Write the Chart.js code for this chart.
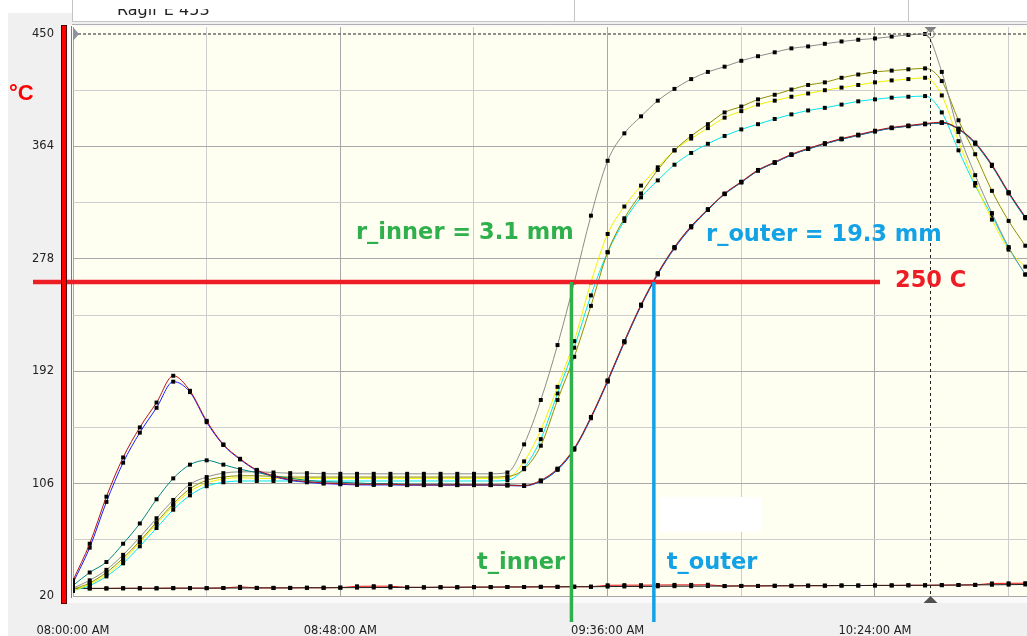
<!DOCTYPE html>
<html>
<head>
<meta charset="utf-8">
<script src="https://cdn.jsdelivr.net/npm/chart.js@4.4.0/dist/chart.umd.min.js"></script>
<style>
  html, body { margin: 0; padding: 0; background: #fff; overflow: hidden; }
  canvas { display: block; }
</style>
</head>
<body>
<canvas id="chart" width="1027" height="636"></canvas>
<script>
// time axis: minutes after 08:00:00 AM
const startHour = 8;
const minutes = [0, 3, 6, 9, 12, 15, 18, 21, 24, 27,
  30, 33, 36, 39, 42, 45, 48, 51, 54, 57,
  60, 63, 66, 69, 72, 75, 78, 81, 84, 87,
  90, 93, 96, 99, 102, 105, 108, 111, 114, 117,
  120, 123, 126, 129, 132, 135, 138, 141, 144, 147,
  150, 153, 156, 159, 162, 165, 168, 171];

// temperatures, °C
const redOuter = [32, 60, 96, 126, 149, 168, 188.5, 177, 154, 136,
  125, 116.5, 112, 109, 107.5, 106.5, 106, 105.5, 105.5, 105.5,
  105, 105, 105, 105, 105, 105, 104.8, 104.5, 108.5, 117.5,
  133, 157, 185, 215, 243, 267, 287, 303, 316, 328,
  337, 346, 352, 358, 362.5, 366.5, 370, 373, 376, 378.5,
  380, 381.5, 382.5, 377.5, 367, 350, 329, 310];
const blueOuter = [30, 57, 92, 122, 145, 164, 184, 176, 153, 135.5,
  124.5, 116, 111.5, 108.5, 107, 106, 105.5, 105, 105, 105,
  104.8, 104.8, 104.8, 104.8, 104.8, 104.8, 104.5, 104.2, 107.8, 116.5,
  132, 156, 184, 214, 242, 266, 286, 302, 315.5, 327.5,
  336.5, 345.5, 351.5, 357.5, 362, 366, 369.5, 372.5, 375.5, 378,
  379.5, 381, 382, 377.5, 366.5, 349.5, 328.5, 309.5];
const tealOuter = [28, 38, 46, 60, 75.5, 94, 110, 120.5, 123.8, 120.5,
  117, 114.5, 112, 110, 108.5, 107.5, 107, 106.5, 106, 106,
  105.5, 105.5, 105.5, 105.3, 105.2, 105, 105, 104.5, 108, 117,
  132.5, 156.5, 184.5, 214.5, 242.5, 266.5, 286.5, 302.5, 315.5, 327.5,
  336.5, 345.5, 351.5, 357.5, 362, 366, 369.5, 372.5, 375.5, 378,
  379.5, 381, 382, 377, 366, 349, 328, 309];
const grayInner = [26, 32, 40, 51.5, 65, 79.5, 93.5, 105.5, 111, 114,
  115, 115, 114.5, 114, 114, 113.5, 113.5, 113.5, 113.5, 113.5,
  113.5, 113.5, 113.5, 113.5, 113.5, 113.5, 114.5, 136, 170, 212,
  260, 311, 353, 374, 387, 399, 408, 415.5, 421, 425,
  429.5, 433, 436, 439, 440.5, 442.5, 444.3, 445.6, 446.6, 448,
  449.3, 450, 421, 375, 342, 313, 287, 266];
const oliveInner = [25, 30, 38, 49, 62, 76.5, 90.5, 102, 108.5, 111,
  112, 112, 111.5, 111, 111, 111, 111, 111, 111, 111,
  111, 111, 111, 111, 111, 111, 111.5, 117, 135, 170,
  203, 242, 283, 309, 328, 346, 361, 372, 381, 390,
  394.5, 400, 403.5, 407.5, 411, 413, 416.5, 419, 421, 422,
  423, 423.7, 414, 384, 358, 330, 307, 288];
const yellowInner = [24, 29, 36.5, 47, 61, 75, 89, 100, 106.5, 109.5,
  110.5, 110, 110, 110, 110, 110, 110, 110, 110, 110,
  110, 110, 110, 110, 110, 110, 110.5, 123, 147, 180,
  215, 260, 297, 318, 334, 348, 361, 370, 378, 386,
  391, 396, 399, 402, 404.5, 407, 409, 411, 413, 414.5,
  415.5, 416.5, 403, 368, 336, 308, 285, 272];
const cyanInner = [24, 28, 35, 45, 58, 72, 86, 97, 104, 107,
  108, 108, 108, 108, 108, 108, 108, 108, 108, 108,
  108, 108, 108, 108, 108, 108, 108.5, 118, 140, 175,
  210, 250, 283, 307, 325, 338, 350, 359, 366, 372,
  377, 381, 385, 388.5, 391.5, 393.5, 396, 398.5, 400, 401.3,
  402, 402.5, 390, 361, 334, 311, 286, 266];
const ambientBlack = [25.8, 25.8, 25.8, 25.9, 25.9, 25.9, 26, 26, 26, 26.1,
  26.1, 26.2, 26.2, 26.2, 26.3, 26.3, 26.4, 26.4, 26.5, 26.5,
  26.6, 26.6, 26.7, 26.7, 26.8, 26.8, 26.9, 26.9, 27, 27,
  27.1, 27.1, 27.2, 27.3, 27.3, 27.4, 27.5, 27.5, 27.6, 27.6,
  27.7, 27.7, 27.8, 27.8, 27.9, 27.9, 28, 28, 28.1, 28.1,
  28.2, 28.2, 28.3, 28.4, 28.5, 28.6, 28.7, 28.8];
const ambientRed = [25.8, 25.8, 25.8, 25.9, 25.9, 25.9, 26, 26, 26, 26.1,
  27, 26.2, 26.2, 26.2, 26.3, 26.3, 26.4, 27.4, 27.5, 27.5,
  26.6, 26.6, 26.7, 26.7, 26.8, 26.8, 26.9, 26.9, 27, 27,
  27.1, 27.1, 28.2, 28.3, 28.3, 28.4, 28.5, 28.5, 28.6, 27.6,
  27.7, 27.7, 27.8, 27.8, 27.9, 27.9, 28, 28, 28.1, 28.1,
  28.2, 28.2, 28.3, 28.4, 28.5, 29.6, 29.7, 29.8];

// axis ticks
const yGridValues = [20, 63, 106, 149, 192, 235, 278, 321, 364, 407, 450];
const yLabelValues = [20, 106, 192, 278, 364, 450];
const xGridMinutes = [0, 24, 48, 72, 96, 120, 144, 168];
const xLabelMinutes = [0, 48, 96, 144];

// annotations (data units)
const thresholdTemp = 260.25;
const thresholdEnd = 144.9;
const tInner = 89.5;
const tOuter = 104.3;
const cursorMinute = 153.96;

const pad2 = (n) => String(n).padStart(2, "0");
const formatTime = (min) => {
  const total = startHour * 60 + min;
  const h = Math.floor(total / 60);
  const m = total % 60;
  const h12 = ((h + 11) % 12) + 1;
  return `${pad2(h12)}:${pad2(m)}:00 ${h < 12 ? "AM" : "PM"}`;
};

const series = [
  { data: redOuter, color: "#b0121b" },
  { data: tealOuter, color: "#008585" },
  { data: blueOuter, color: "#1a1aff" },
  { data: grayInner, color: "#8c8c8c" },
  { data: oliveInner, color: "#8f8f00" },
  { data: yellowInner, color: "#f2f200" },
  { data: cyanInner, color: "#00e6f0" },
  { data: ambientBlack, color: "#202020" },
  { data: ambientRed, color: "#e01010" },
];

const datasets = series.map((s) => ({
  data: minutes.map((t, i) => ({ x: t, y: s.data[i] })),
  borderColor: s.color,
  borderWidth: 1,
  pointStyle: "rect",
  pointRadius: 2.8,
  pointBorderWidth: 0,
  pointBackgroundColor: "#000",
  cubicInterpolationMode: "monotone",
  fill: false,
}));

const decorations = {
  id: "decorations",
  beforeDraw(chart) {
    const { ctx, chartArea: a, width, height } = chart;
    ctx.save();
    ctx.fillStyle = "#ffffff";
    ctx.fillRect(0, 0, width, height);
    ctx.fillStyle = "#f0f0f0";
    ctx.fillRect(8, 13, width - 8, height - 13);
    ctx.fillStyle = "#ffffff";
    ctx.fillRect(a.left - 1, 0, width, 22);
    ctx.fillStyle = "#fafafa";
    ctx.fillRect(a.left - 6, a.top - 2, width, a.bottom - a.top + 8);

    // header tabs
    ctx.strokeStyle = "#c4c4c4";
    ctx.lineWidth = 1;
    [a.left - 0.5, 574.5, 908.5].forEach((x) => {
      ctx.beginPath(); ctx.moveTo(x, 0); ctx.lineTo(x, 21); ctx.stroke();
    });
    ctx.beginPath(); ctx.moveTo(a.left - 1, 21.5); ctx.lineTo(width, 21.5); ctx.stroke();
    ctx.strokeStyle = "#b0b0b0";
    ctx.beginPath(); ctx.moveTo(a.left - 1, 24.5); ctx.lineTo(width, 24.5); ctx.stroke();
    ctx.save();
    ctx.beginPath(); ctx.rect(a.left, 9, 500, 12); ctx.clip();
    ctx.fillStyle = "#222";
    ctx.font = "16px 'DejaVu Sans'";
    ctx.textBaseline = "alphabetic";
    ctx.fillText("Ragir E 453", 117, 15);
    ctx.restore();

    ctx.fillStyle = "#fefff0";
    ctx.fillRect(a.left, a.top, a.right - a.left, a.bottom - a.top);
    ctx.strokeStyle = "#7a7a7a";
    ctx.beginPath(); ctx.moveTo(a.left - 1.5, a.top - 1); ctx.lineTo(a.left - 1.5, a.bottom + 1); ctx.stroke();
    ctx.restore();
  },
  afterDatasetsDraw(chart) {
    const { ctx, chartArea: a } = chart;
    const xs = chart.scales.x;
    const ys = chart.scales.y;
    ctx.save();

    // top dashed limit line
    const yTop = ys.getPixelForValue(450);
    ctx.strokeStyle = "#6a6a6a";
    ctx.lineWidth = 1.5;
    ctx.setLineDash([3, 2]);
    ctx.beginPath(); ctx.moveTo(a.left, yTop); ctx.lineTo(a.right, yTop); ctx.stroke();

    // cursor line
    const xc = Math.round(xs.getPixelForValue(cursorMinute)) + 0.5;
    ctx.strokeStyle = "#222";
    ctx.lineWidth = 1;
    ctx.setLineDash([3, 3]);
    ctx.beginPath(); ctx.moveTo(xc, a.top); ctx.lineTo(xc, a.bottom); ctx.stroke();
    ctx.setLineDash([]);

    // cursor markers
    ctx.fillStyle = "#808080";
    ctx.beginPath(); ctx.moveTo(xc - 6, a.top); ctx.lineTo(xc + 6, a.top); ctx.lineTo(xc, a.top + 6); ctx.fill();
    ctx.strokeStyle = "#909090";
    ctx.beginPath(); ctx.arc(xc, yTop, 4, 0, Math.PI * 2); ctx.stroke();
    ctx.fillStyle = "#505050";
    ctx.beginPath(); ctx.moveTo(xc - 7, a.bottom + 6); ctx.lineTo(xc + 7, a.bottom + 6); ctx.lineTo(xc, a.bottom - 1); ctx.fill();
    ctx.fillStyle = "#9090a0";
    ctx.beginPath(); ctx.moveTo(a.left, yTop - 7); ctx.lineTo(a.left + 6, yTop); ctx.lineTo(a.left, yTop + 7); ctx.fill();

    // white patch
    ctx.fillStyle = "#ffffff";
    const wx0 = xs.getPixelForValue(105.4), wx1 = xs.getPixelForValue(123.7);
    const wy0 = ys.getPixelForValue(95.75), wy1 = ys.getPixelForValue(69.0);
    ctx.fillRect(wx0, wy0, wx1 - wx0, wy1 - wy0);

    // threshold
    const yThr = ys.getPixelForValue(thresholdTemp);
    ctx.strokeStyle = "#ee1c25";
    ctx.lineWidth = 4.5;
    ctx.beginPath(); ctx.moveTo(a.left - 40, yThr); ctx.lineTo(xs.getPixelForValue(thresholdEnd), yThr); ctx.stroke();

    // crossing times
    const lineBottom = a.bottom + 25;
    ctx.lineWidth = 3.5;
    ctx.strokeStyle = "#2fb04c";
    const xi = xs.getPixelForValue(tInner);
    ctx.beginPath(); ctx.moveTo(xi, yThr); ctx.lineTo(xi, lineBottom); ctx.stroke();
    ctx.strokeStyle = "#14a2e6";
    const xo = xs.getPixelForValue(tOuter);
    ctx.beginPath(); ctx.moveTo(xo, yThr); ctx.lineTo(xo, lineBottom); ctx.stroke();

    // labels
    ctx.font = "bold 22.5px 'DejaVu Sans'";
    ctx.textBaseline = "middle";
    ctx.textAlign = "left";
    ctx.fillStyle = "#2fb04c";
    ctx.fillText("r_inner = 3.1 mm", xs.getPixelForValue(50.82), ys.getPixelForValue(297.7));
    ctx.fillText("t_inner", xs.getPixelForValue(72.55), ys.getPixelForValue(45.3));
    ctx.fillStyle = "#14a2e6";
    ctx.fillText("r_outer = 19.3 mm", xs.getPixelForValue(113.67), ys.getPixelForValue(296.2));
    ctx.fillText("t_outer", xs.getPixelForValue(106.6), ys.getPixelForValue(45.3));
    ctx.fillStyle = "#ee1c25";
    ctx.fillText("250 C", xs.getPixelForValue(147.6), ys.getPixelForValue(261));
    ctx.restore();
  },
  afterDraw(chart) {
    const { ctx, chartArea: a } = chart;
    ctx.save();
    // axis colour bar
    ctx.fillStyle = "#ff0000";
    ctx.fillRect(61.5, 25.5, 5, a.bottom - 19);
    ctx.strokeStyle = "#5a0000";
    ctx.lineWidth = 1;
    ctx.strokeRect(61.5, 25.5, 5, a.bottom - 19);
    ctx.fillStyle = "#ff0000";
    ctx.font = "bold 22px 'Liberation Sans'";
    ctx.textBaseline = "alphabetic";
    ctx.fillText("°C", 9, 100);
    ctx.restore();
  },
};

new Chart(document.getElementById("chart"), {
  type: "line",
  data: { datasets },
  options: {
    responsive: false,
    animation: false,
    devicePixelRatio: 1,
    layout: { autoPadding: false, padding: { top: 27, left: 0, right: 0, bottom: 0 } },
    plugins: { legend: { display: false }, tooltip: { enabled: false } },
    scales: {
      x: {
        type: "linear",
        min: 0,
        max: 171.3,
        afterBuildTicks: (scale) => {
          scale.ticks = xGridMinutes.map((v) => ({ value: v }));
        },
        afterFit: (scale) => {
          scale.height = 39;
          scale.paddingLeft = 0;
          scale.paddingRight = 0;
        },
        ticks: {
          autoSkip: false,
          maxRotation: 0,
          padding: 27,
          color: "#222",
          font: { family: "'DejaVu Sans'", size: 11.5 },
          callback: (v) => (xLabelMinutes.includes(v) ? formatTime(v) : ""),
        },
        grid: {
          drawTicks: false,
          color: (c) => (c.tick && xLabelMinutes.includes(c.tick.value) ? "#a8a8a8" : "#cdcdcd"),
        },
        border: { display: false },
      },
      y: {
        type: "linear",
        min: 19.235,
        max: 455.36,
        afterBuildTicks: (scale) => {
          scale.ticks = yGridValues.map((v) => ({ value: v }));
        },
        afterFit: (scale) => {
          scale.width = 73;
          scale.paddingTop = 0;
          scale.paddingBottom = 0;
        },
        ticks: {
          padding: 19,
          color: "#222",
          font: { family: "'DejaVu Sans'", size: 11.5 },
          callback: (v) => (yLabelValues.includes(v) ? String(v) : ""),
        },
        grid: {
          drawTicks: false,
          color: (c) => {
            if (!c.tick || c.tick.value === 450) return "rgba(0,0,0,0)";
            return yLabelValues.includes(c.tick.value) ? "#a8a8a8" : "#cdcdcd";
          },
        },
        border: { display: false },
      },
    },
  },
  plugins: [decorations],
});
</script>
</body>
</html>
